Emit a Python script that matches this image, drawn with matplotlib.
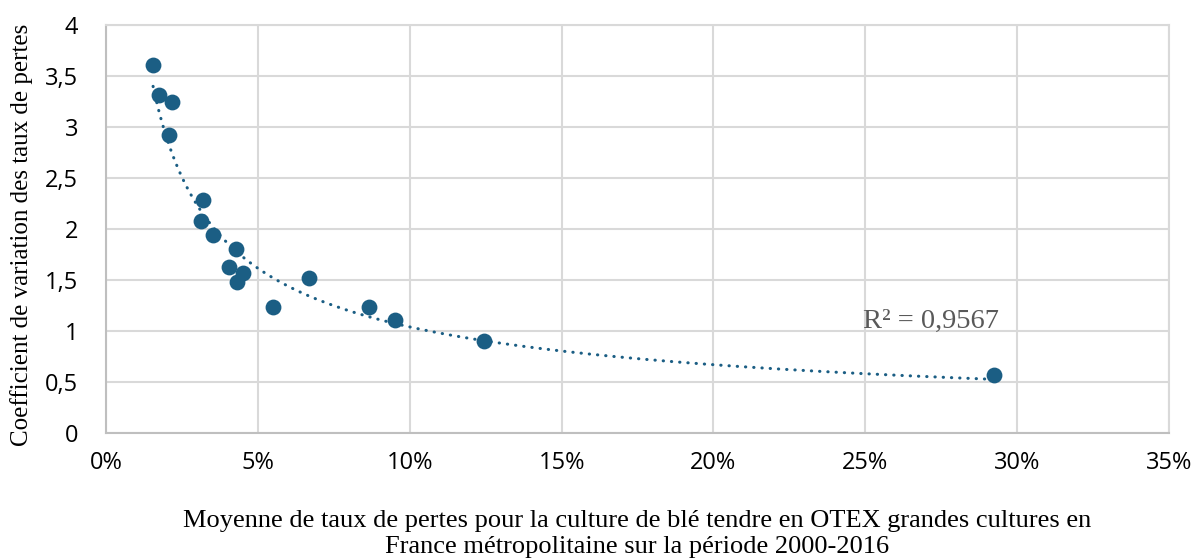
import numpy as np
import matplotlib.pyplot as plt
from matplotlib.ticker import FuncFormatter, MultipleLocator

# mean loss rate (fraction) and coefficient of variation
loss_mean = [0.0155, 0.0174, 0.0217, 0.0207, 0.0319, 0.0313, 0.0352, 0.0428,
             0.0405, 0.0450, 0.0431, 0.0549, 0.0668, 0.0865, 0.0950, 0.1243, 0.2924]
cv = [3.61, 3.31, 3.25, 2.92, 2.28, 2.08, 1.94, 1.80,
      1.63, 1.57, 1.48, 1.24, 1.52, 1.24, 1.11, 0.90, 0.57]
r2_label = 'R² = 0,9567'

x = np.array(loss_mean)
y = np.array(cv)

# power trendline (like Excel)
b, ln_a = np.polyfit(np.log(x), np.log(y), 1)
xt = np.linspace(x.min(), x.max(), 300)
yt = np.exp(ln_a) * xt ** b

dot_col = '#1b5e84'
grid_col = '#d9d9d9'

plt.rcParams['font.family'] = ['Open Sans', 'DejaVu Sans']

fig = plt.figure(figsize=(11.96, 5.6), dpi=100)
ax = fig.add_axes([106/1196, 1 - 433/560, (1169-106)/1196, (433-25)/560])

ax.plot(xt, yt, color=dot_col, linewidth=2.2, linestyle=(0, (0.1, 2.6)),
        dash_capstyle='round', zorder=2)
ax.scatter(x, y, s=130, color=dot_col, zorder=3, linewidths=0)

ax.set_xlim(0, 0.35)
ax.set_ylim(0, 4)
ax.xaxis.set_major_locator(MultipleLocator(0.05))
ax.yaxis.set_major_locator(MultipleLocator(0.5))
ax.xaxis.set_major_formatter(FuncFormatter(lambda v, p: f'{v*100:.0f}%'))
ax.yaxis.set_major_formatter(FuncFormatter(lambda v, p: (f'{v:g}').replace('.', ',')))

ax.grid(True, color=grid_col, linewidth=1.5)
ax.set_axisbelow(True)
for side in ['top', 'right']:
    ax.spines[side].set_color(grid_col)
    ax.spines[side].set_linewidth(1.5)
for side in ['left', 'bottom']:
    ax.spines[side].set_color('#bfbfbf')
    ax.spines[side].set_linewidth(1.5)
ax.tick_params(length=0, labelsize=17, colors='black')
ax.tick_params(axis='x', pad=13)
ax.tick_params(axis='y', pad=20)

ax.text(0.294, 1.03, r2_label, fontsize=20.5, color='#595959',
        family='Liberation Serif', ha='right', va='baseline')

ax.set_ylabel('Coefficient de variation des taux de pertes', family='Liberation Serif',
              fontsize=18)
ax.yaxis.set_label_coords(-0.069, 0.485)
fig.text((106 + 1169) / 2 / 1196, 1 - 534/560,
         'Moyenne de taux de pertes pour la culture de blé tendre en OTEX grandes cultures en\n'
         'France métropolitaine sur la période 2000-2016',
         ha='center', va='center', family='Liberation Serif', fontsize=19, linespacing=1.2)

fig.savefig('out.png', dpi=100)
